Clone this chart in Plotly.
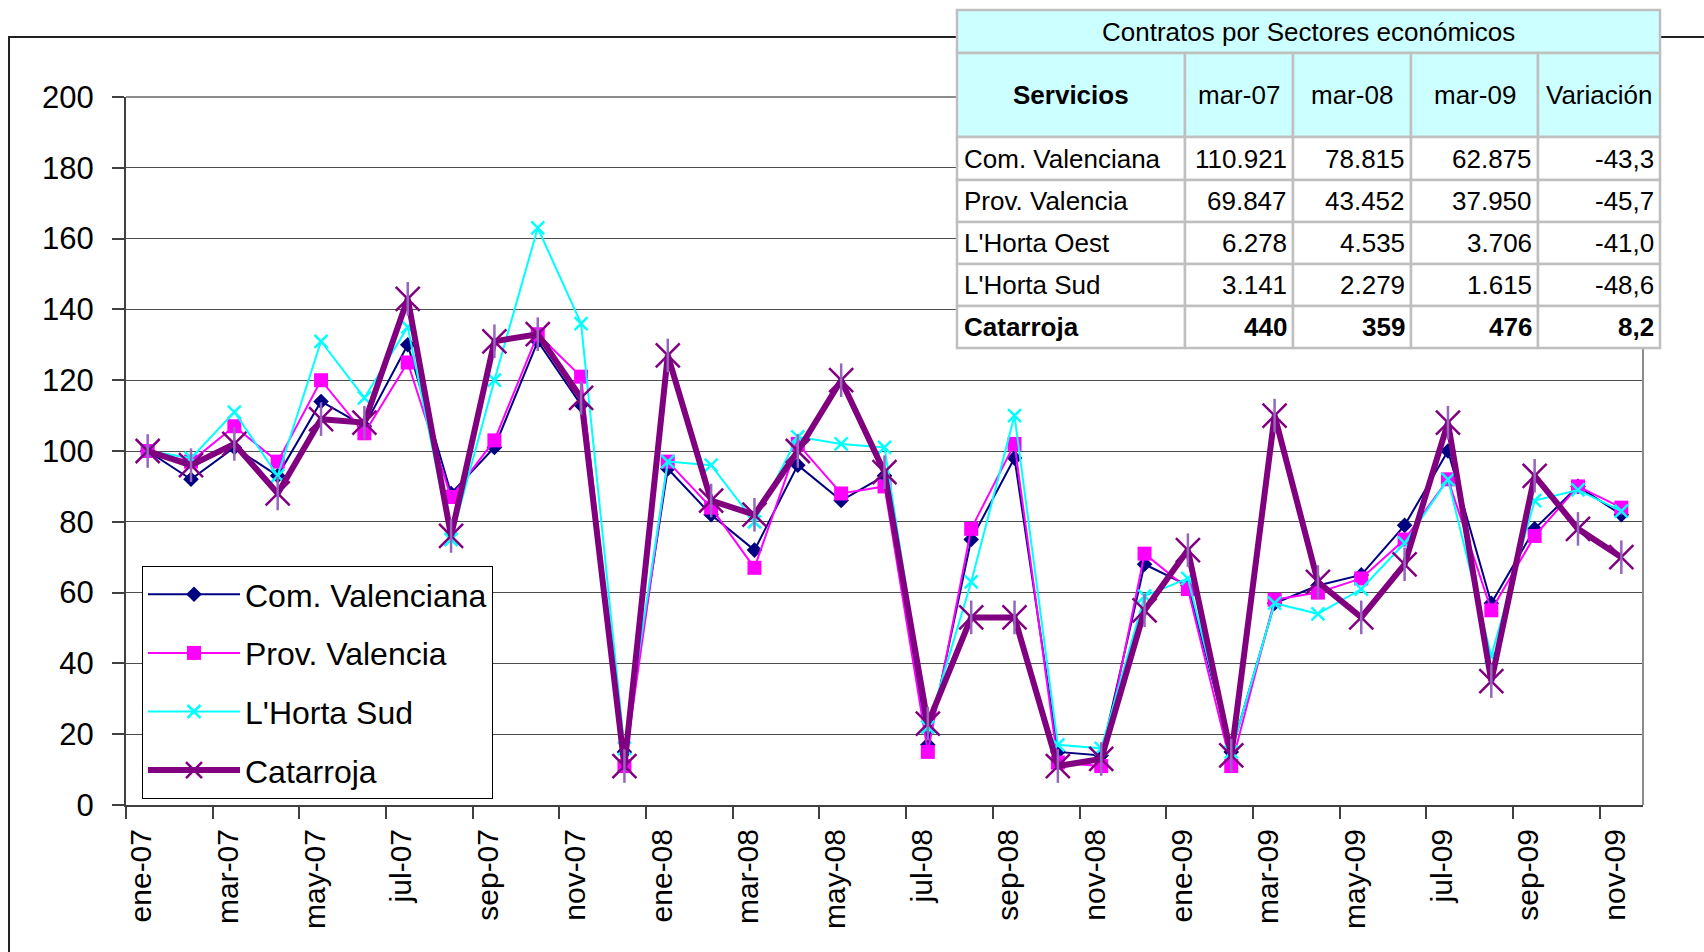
import plotly.graph_objects as go

meses = ["ene-07", "feb-07", "mar-07", "abr-07", "may-07", "jun-07", "jul-07", "ago-07",
         "sep-07", "oct-07", "nov-07", "dic-07", "ene-08", "feb-08", "mar-08", "abr-08",
         "may-08", "jun-08", "jul-08", "ago-08", "sep-08", "oct-08", "nov-08", "dic-08",
         "ene-09", "feb-09", "mar-09", "abr-09", "may-09", "jun-09", "jul-09", "ago-09",
         "sep-09", "oct-09", "nov-09"]

com_valenciana = [100, 92, 101, 93, 114, 107, 130, 88, 101, 131, 113, 15, 95, 82, 72, 96,
                  86, 93, 17, 75, 98, 15, 14, 68, 62, 15, 57, 62, 65, 79, 100, 57, 78, 90, 82]
prov_valencia = [100, 97, 107, 97, 120, 105, 125, 87, 103, 133, 121, 11, 97, 84, 67, 102,
                 88, 90, 15, 78, 102, 12, 11, 71, 61, 11, 58, 60, 64, 75, 92, 55, 76, 90, 84]
horta_sud = [100, 98, 111, 93, 131, 115, 135, 75, 120, 163, 136, 16, 97, 96, 80, 104,
             102, 101, 22, 63, 110, 17, 16, 59, 64, 15, 57, 54, 61, 74, 92, 42, 86, 89, 83]
catarroja = [100, 96, 102, 88, 109, 108, 143, 76, 131, 133, 115, 11, 127, 86, 82, 100,
             120, 94, 23, 53, 53, 11, 13, 55, 72, 14, 110, 63, 53, 68, 108, 35, 93, 78, 70]

# tabla
tabla_titulo = "Contratos por Sectores económicos"
tabla_cabecera = ["Servicios", "mar-07", "mar-08", "mar-09", "Variación"]
tabla_zonas = ["Com. Valenciana", "Prov. Valencia", "L'Horta Oest", "L'Horta Sud", "Catarroja"]
tabla_mar07 = ["110.921", "69.847", "6.278", "3.141", "440"]
tabla_mar08 = ["78.815", "43.452", "4.535", "2.279", "359"]
tabla_mar09 = ["62.875", "37.950", "3.706", "1.615", "476"]
tabla_variacion = ["-43,3", "-45,7", "-41,0", "-48,6", "8,2"]

FONT = "Liberation Sans, Arial, sans-serif"

# plot area in pixels
L, R, T, B = 126, 1643, 97, 805
W, H = R - L, B - T


def px(x):
    return (x - L) / W


def py(y):
    return (B - y) / H


fig = go.Figure()

fig.add_trace(go.Scatter(x=meses, y=com_valenciana, name="Com. Valenciana", legendgroup="a",
                         mode="lines+markers", line=dict(color="#000080", width=2),
                         marker=dict(symbol="diamond", size=12, color="#000080")))
fig.add_trace(go.Scatter(x=meses, y=prov_valencia, name="Prov. Valencia", legendgroup="b",
                         mode="lines+markers", line=dict(color="#FF00FF", width=2),
                         marker=dict(symbol="square", size=14, color="#FF00FF")))
fig.add_trace(go.Scatter(x=meses, y=horta_sud, name="L'Horta Sud", legendgroup="c",
                         mode="lines+markers", line=dict(color="#00FFFF", width=2),
                         marker=dict(symbol="x-thin-open", size=13,
                                     line=dict(color="#00FFFF", width=2.5))))
fig.add_trace(go.Scatter(x=meses, y=catarroja, name="Catarroja", legendgroup="d",
                         mode="lines+markers", line=dict(color="#800080", width=6),
                         marker=dict(symbol="x-thin-open", size=24,
                                     line=dict(color="#800080", width=2.5))))
fig.add_trace(go.Scatter(x=meses, y=catarroja, legendgroup="d", showlegend=False,
                         mode="markers", hoverinfo="skip",
                         marker=dict(symbol="line-ns-open", size=24,
                                     line=dict(color="#800080", width=2.5))))

shapes = []
# chart border (partly off-canvas)
shapes.append(dict(type="rect", xref="paper", yref="paper",
                   x0=px(9), x1=px(1730), y0=py(37), y1=py(990),
                   line=dict(color="#222222", width=2)))
# plot area border top/right
shapes.append(dict(type="line", xref="paper", yref="paper", x0=0, x1=1, y0=1, y1=1,
                   line=dict(color="#8c8c8c", width=2)))
shapes.append(dict(type="line", xref="paper", yref="paper", x0=1, x1=1, y0=0, y1=1,
                   line=dict(color="#8c8c8c", width=2)))

# table geometry
col_x = [957, 1185, 1293, 1411, 1538, 1660]
row_y = [10, 53, 137, 180, 222, 264, 306, 348]
CYAN = "#CCFFFF"
GRID = "#BFBFBF"

shapes.append(dict(type="rect", xref="paper", yref="paper",
                   x0=px(col_x[0]), x1=px(col_x[-1]), y0=py(row_y[0]), y1=py(row_y[1]),
                   fillcolor=CYAN, line=dict(color=GRID, width=2.5)))
for r in range(1, 7):
    for c in range(5):
        shapes.append(dict(type="rect", xref="paper", yref="paper",
                           x0=px(col_x[c]), x1=px(col_x[c + 1]),
                           y0=py(row_y[r]), y1=py(row_y[r + 1]),
                           fillcolor=CYAN if r == 1 else "white",
                           line=dict(color=GRID, width=2.5)))

annotations = []


def celda(texto, x, y, anchor):
    annotations.append(dict(text=texto, xref="paper", yref="paper", x=px(x), y=py(y),
                            xanchor=anchor, yanchor="middle", showarrow=False,
                            font=dict(family=FONT, size=26, color="black")))


celda(tabla_titulo, (col_x[0] + col_x[-1]) / 2, (row_y[0] + row_y[1]) / 2, "center")
for c, h in enumerate(tabla_cabecera):
    txt = "<b>%s</b>" % h if c == 0 else h
    celda(txt, (col_x[c] + col_x[c + 1]) / 2, (row_y[1] + row_y[2]) / 2, "center")

columnas = [tabla_mar07, tabla_mar08, tabla_mar09, tabla_variacion]
for r, zona in enumerate(tabla_zonas):
    yc = (row_y[r + 2] + row_y[r + 3]) / 2
    negrita = zona == "Catarroja"
    celda("<b>%s</b>" % zona if negrita else zona, col_x[0] + 5, yc, "left")
    for c, col in enumerate(columnas):
        v = col[r]
        celda("<b>%s</b>" % v if negrita else v, col_x[c + 2] - 4, yc, "right")

fig.update_layout(
    template="none",
    width=1704, height=952,
    margin=dict(l=L, r=1704 - R, t=T, b=952 - B, autoexpand=False),
    paper_bgcolor="white", plot_bgcolor="white",
    font=dict(family=FONT, color="black"),
    shapes=shapes,
    annotations=annotations,
    showlegend=True,
    legend=dict(x=px(142), y=py(566), xanchor="left", yanchor="top",
                bgcolor="white", bordercolor="black", borderwidth=1,
                font=dict(family=FONT, size=32), tracegroupgap=14,
                itemwidth=92, traceorder="grouped"),
)

fig.update_xaxes(type="category", tickson="boundaries", tickmode="linear", tick0=0, dtick=2,
                 range=[-0.5, 34.5], showgrid=False, zeroline=False,
                 showline=True, linecolor="#404040", linewidth=2,
                 ticks="outside", ticklen=12, tickwidth=1.5, tickcolor="#404040",
                 tickangle=-90, tickfont=dict(family=FONT, size=30),
                 ticklabelshift=-6, ticklabelstandoff=10)
fig.update_yaxes(range=[0, 200], dtick=20, tick0=0, showgrid=True, gridcolor="#4d4d4d",
                 gridwidth=1, zeroline=False, showline=True, linecolor="#404040",
                 linewidth=2, ticks="outside", ticklen=12, tickwidth=1.5,
                 tickcolor="#404040", tickfont=dict(family=FONT, size=31),
                 ticklabelstandoff=12)

# the page body has a default 8px margin; drop it so the figure sits at the corner
fig.write_html("out.html", config={"displayModeBar": False},
               post_script="document.body.style.margin='0';")
